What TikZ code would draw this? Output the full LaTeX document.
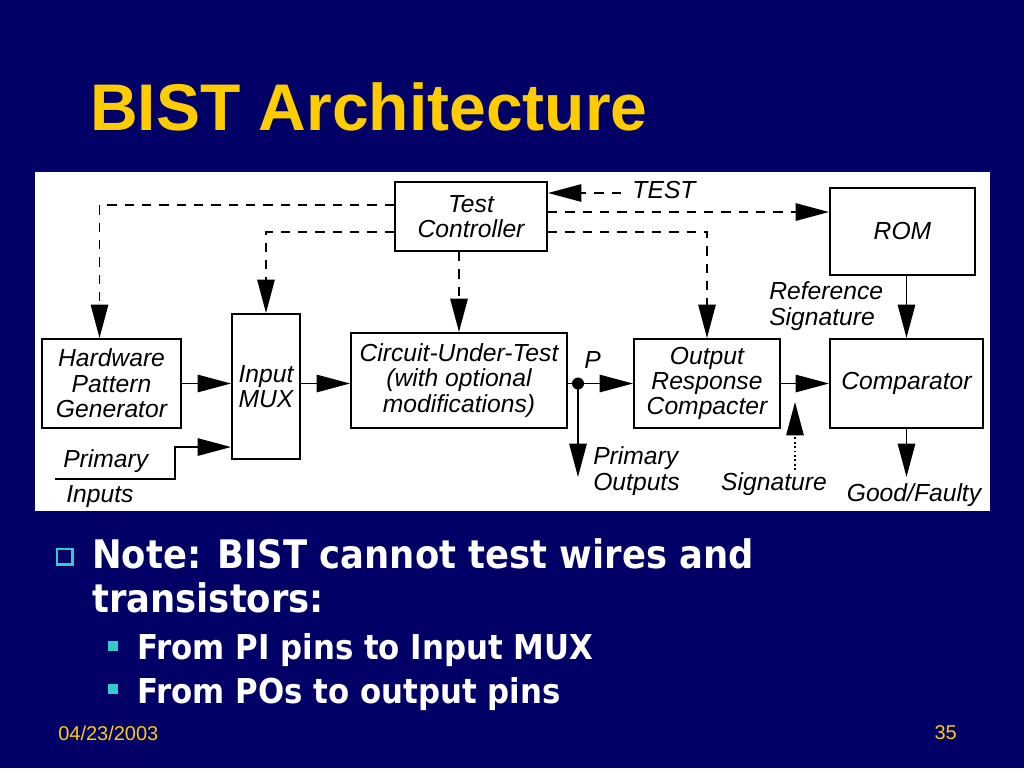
\documentclass[tikz,border=0pt]{standalone}
\usepackage{fontspec}
\setmainfont{Liberation Sans}
\newfontfamily\notefont[FakeStretch=0.9]{DejaVu Sans}
\usetikzlibrary{arrows.meta}
\definecolor{slidebg}{RGB}{0,0,102}
\definecolor{titleyellow}{RGB}{255,204,0}
\definecolor{bulletcyan}{RGB}{51,204,204}
\begin{document}
\begin{tikzpicture}[x=0.75pt,y=-0.75pt,
    box/.style={draw=black,line width=1.5pt,fill=white,align=center,inner sep=0pt,
        font=\itshape\fontsize{18.5}{19}\selectfont},
    lbl/.style={align=left,inner sep=0pt,font=\itshape\fontsize{18.5}{19}\selectfont},
    arr/.style={line width=1.3pt,-{Triangle[length=25pt,width=13pt]}},
    ctrl/.style={arr,dash pattern=on 7pt off 6pt},
    sig/.style={arr,dotted},
    note/.style={anchor=base west,inner sep=0pt,text=white},
    ]
    % Slide background and white panel
    \fill[slidebg] (0,0) rectangle (1024,768);
    \useasboundingbox (0,0) rectangle (1024,768);
    \fill[white] (35,172) rectangle (990,511);

    % Title
    \node[anchor=base west,inner sep=0pt,text=titleyellow,
        font=\bfseries\fontsize{49.5}{50}\selectfont] (title) at (90,130) {BIST Architecture};

    % Blocks
    \node[box,minimum width=114pt,minimum height=51.75pt] (tc) at (471,216.5) {Test\\Controller};
    \node[box,minimum width=108.75pt,minimum height=65.25pt] (rom) at (902.5,231.5) {ROM};
    \node[box,minimum width=104.25pt,minimum height=66.75pt] (hpg) at (111.5,383.5) {Hardware\\Pattern\\Generator};
    \node[box,minimum width=51pt,minimum height=108.75pt] (mux) at (266,386.5) {Input\\MUX};
    \node[box,minimum width=162pt,minimum height=71.25pt] (cut) at (459,380.5) {Circuit-Under-Test\\(with optional\\modifications)};
    \node[box,minimum width=109.5pt,minimum height=66.75pt] (orc) at (707,383.5) {Output\\Response\\Compacter};
    \node[box,minimum width=114.75pt,minimum height=66.75pt] (cmp) at (906.5,383.5) {Comparator};

    % Free ends and branch point
    \coordinate (testin) at (621,193);
    \coordinate (pi) at (55,479);
    \coordinate (pibend) at (175,479);
    \coordinate (muxin) at ([yshift=-45.4pt]mux.west);
    \coordinate (p) at (578,383.5);
    \coordinate (po) at (578,477);
    \coordinate (sigin) at (795,470);
    \coordinate (sigtip) at (795,402);
    \coordinate (gf) at (906.5,477);
    \coordinate (romin) at ([yshift=14.6pt]rom.west);
    \coordinate (hpgin) at ([xshift=-9pt]hpg.north);

    % Labels
    \node[lbl] (testlbl) at (664,190) {TEST};
    \node[lbl,anchor=west] (refsig) at (769,306) {Reference\\Signature};
    \node[lbl,anchor=base west] (pilbl) at (63,467) {Primary};
    \node[lbl,anchor=base west] (pilbl2) at (66,502) {Inputs};
    \node[lbl,anchor=base west] (plbl) at (584,368) {P};
    \node[lbl,anchor=west] (polbl) at (593,471) {Primary\\Outputs};
    \node[lbl] (siglbl) at (774,484) {Signature};
    \node[lbl] (gflbl) at (914,495) {Good/Faulty};

    % Test control (dashed)
    \draw[ctrl] (testin) -- (tc.east |- testin);
    \draw[ctrl] ([yshift=8.6pt]tc.west) -| (hpgin);
    \draw[ctrl] ([yshift=-11.6pt]tc.west) -| (mux.north);
    \draw[ctrl] (tc.south -| cut.north) -- (cut.north);
    \draw[ctrl] (tc.east |- romin) -- (romin);
    \draw[ctrl] ([yshift=-11.6pt]tc.east) -| (orc.north);

    % Data path
    \draw[arr] (hpg.east) -- (hpg.east -| mux.west);
    \draw[arr] (pi) -- (pibend) |- (muxin);
    \draw[arr] (mux.east |- hpg.east) -- (cut.west |- hpg.east);
    \draw[arr] (cut.east |- p) -- (orc.west |- p);
    \fill (p) circle (4.5pt);
    \draw[arr] (p) -- (po);
    \draw[arr] (orc.east) -- (cmp.west);
    \draw[arr] (rom.south -| cmp.north) -- (cmp.north);
    \draw[arr] (cmp.south) -- (gf);
    \draw[sig] (sigin) -- (sigtip);

    % Notes
    \fill[bulletcyan] (56,548) rectangle (74,566);
    \fill[slidebg] (58,550) rectangle (71,563);
    \node[note,font=\notefont\bfseries\fontsize{29.5}{30}\selectfont] (note1) at (92,568) {Note: BIST cannot test wires and};
    \node[note,font=\notefont\bfseries\fontsize{29.5}{30}\selectfont] (note2) at (92,612) {transistors:};
    \fill[bulletcyan] (108,641) rectangle (118,651);
    \node[note,font=\notefont\bfseries\fontsize{25.7}{26}\selectfont] (sub1) at (137,659) {From PI pins to Input MUX};
    \fill[bulletcyan] (108,684) rectangle (118,694);
    \node[note,font=\notefont\bfseries\fontsize{25.7}{26}\selectfont] (sub2) at (137,703) {From POs to output pins};

    % Footer
    \node[anchor=west,inner sep=0pt,text=titleyellow,font=\fontsize{15}{16}\selectfont] (date) at (58,733) {04/23/2003};
    \node[anchor=east,inner sep=0pt,text=titleyellow,font=\fontsize{15}{16}\selectfont] (slideno) at (957,733) {35};
\end{tikzpicture}
\end{document}
